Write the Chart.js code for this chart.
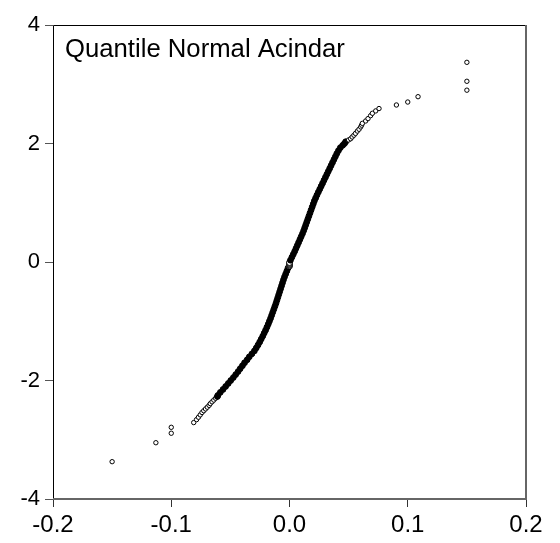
<!DOCTYPE html>
<html><head><meta charset="utf-8">
<script src="https://cdn.jsdelivr.net/npm/chart.js@4.4.1/dist/chart.umd.min.js"></script>
<style>html,body{margin:0;padding:0;background:#fff}#wrap{width:560px;height:543px}</style>
</head><body><div id="wrap"><canvas id="c" width="560" height="543"></canvas></div>
<script>
const titleText = "Quantile Normal Acindar";
const xTickLabels = ["-0.2", "-0.1", "0.0", "0.1", "0.2"];
const yTickLabels = ["-4", "-2", "0", "2", "4"];

// lower tail (x = empirical quantile, y = normal quantile)
const lowerX = [-0.150, -0.113, -0.100, -0.100, -0.081, -0.0786, -0.077, -0.0755, -0.074, -0.0725, -0.071, -0.0695, -0.068, -0.067, -0.0655, -0.064, -0.0625, -0.061];
const lowerY = [-3.37, -3.05, -2.89, -2.79, -2.71, -2.66, -2.62, -2.58, -2.54, -2.51, -2.48, -2.45, -2.42, -2.39, -2.36, -2.33, -2.30, -2.27];

// dense negative body
const negX = [-0.0605, -0.0585, -0.0562, -0.0540, -0.0518, -0.0497, -0.0475, -0.0455, -0.0435, -0.0417, -0.0398, -0.0380, -0.0358, -0.0340, -0.0318, -0.0297, -0.0281, -0.0266, -0.0252, -0.0239, -0.0226, -0.0214, -0.0202, -0.0191, -0.0180, -0.0170, -0.0160, -0.0151, -0.0142, -0.0133, -0.0124, -0.0115, -0.0107, -0.0099, -0.0091, -0.0083, -0.0075, -0.0067, -0.0059, -0.0051, -0.0042, -0.0032, -0.0022, -0.0012];
const negY = [-2.25, -2.20, -2.15, -2.10, -2.05, -2.00, -1.95, -1.90, -1.85, -1.80, -1.75, -1.70, -1.65, -1.60, -1.55, -1.50, -1.45, -1.40, -1.35, -1.30, -1.25, -1.20, -1.15, -1.10, -1.05, -1.00, -0.95, -0.90, -0.85, -0.80, -0.75, -0.70, -0.65, -0.60, -0.55, -0.50, -0.45, -0.40, -0.35, -0.30, -0.25, -0.20, -0.15, -0.10];

// zero returns
const zeroX = [0, 0, 0, 0, 0];
const zeroY = [-0.07, -0.055, -0.04, -0.025, -0.01];

// dense positive body
const posX = [0.0008, 0.0020, 0.0032, 0.0044, 0.0055, 0.0066, 0.0077, 0.0088, 0.0099, 0.0110, 0.0120, 0.0129, 0.0138, 0.0147, 0.0156, 0.0165, 0.0174, 0.0183, 0.0192, 0.0201, 0.0210, 0.0221, 0.0232, 0.0244, 0.0256, 0.0268, 0.0280, 0.0292, 0.0304, 0.0316, 0.0328, 0.0340, 0.0352, 0.0364, 0.0376, 0.0388, 0.0400, 0.0414, 0.0430];
const posY = [0.03, 0.08, 0.13, 0.18, 0.23, 0.28, 0.33, 0.38, 0.43, 0.48, 0.53, 0.58, 0.63, 0.68, 0.73, 0.78, 0.83, 0.88, 0.93, 0.98, 1.03, 1.08, 1.13, 1.18, 1.23, 1.28, 1.33, 1.38, 1.43, 1.48, 1.53, 1.58, 1.63, 1.68, 1.73, 1.78, 1.83, 1.88, 1.93];

// upper tail
const upperX = [0.0450, 0.0465, 0.0475, 0.0500, 0.0517, 0.0530, 0.0545, 0.0558, 0.0574, 0.0588, 0.0602, 0.0610, 0.0616, 0.0644, 0.0664, 0.0686, 0.0701, 0.0729, 0.0757, 0.0904, 0.100, 0.1087, 0.150, 0.150, 0.150];
const upperY = [1.97, 2.00, 2.03, 2.06, 2.08, 2.11, 2.14, 2.17, 2.21, 2.24, 2.28, 2.31, 2.34, 2.38, 2.42, 2.47, 2.51, 2.55, 2.59, 2.65, 2.70, 2.79, 2.90, 3.05, 3.37];

function pairs(xs, ys) { return xs.map((x, i) => ({x: x, y: ys[i]})); }
const points = [].concat(pairs(lowerX, lowerY), pairs(negX, negY), pairs(zeroX, zeroY), pairs(posX, posY), pairs(upperX, upperY));

const FONT = "'Liberation Sans', Arial, sans-serif";
function isDense(v) { return v && v.y > -2.28 && v.y < 2.05; }

const framePlugin = {
  id: 'frame',
  afterDraw(chart) {
    const {ctx, chartArea: a} = chart;
    ctx.save();
    ctx.strokeStyle = '#000';
    ctx.lineWidth = 1;
    ctx.beginPath();
    ctx.moveTo(a.left + 0.5, a.bottom);
    ctx.lineTo(a.left + 0.5, a.top + 0.5);
    ctx.lineTo(a.right, a.top + 0.5);
    ctx.stroke();
    ctx.strokeStyle = '#666';
    ctx.lineWidth = 2;
    ctx.beginPath();
    ctx.moveTo(a.right, a.top);
    ctx.lineTo(a.right, a.bottom);
    ctx.lineTo(a.left, a.bottom);
    ctx.stroke();
    ctx.fillStyle = '#000';
    ctx.font = "25.7px " + FONT;
    ctx.textBaseline = 'alphabetic';
    ctx.textAlign = 'left';
    ctx.fillText(titleText, a.left + 12, a.top + 32);
    ctx.restore();
  }
};

new Chart(document.getElementById('c'), {
  type: 'scatter',
  data: {
    datasets: [{
      data: points,
      pointStyle: 'circle',
      pointRadius: (ctx) => isDense(ctx.raw) ? 2.9 : 2.2,
      pointBorderWidth: 1,
      pointBorderColor: '#000',
      pointBackgroundColor: (ctx) => {
        const v = ctx.raw;
        return (isDense(v) && v.x !== 0) ? '#000' : '#fff';
      },
      pointHoverRadius: 2.2
    }]
  },
  options: {
    responsive: false,
    animation: false,
    events: [],
    layout: {padding: {top: 25, right: 34, left: 0, bottom: 0}},
    plugins: {legend: {display: false}, tooltip: {enabled: false}},
    scales: {
      x: {
        type: 'linear', min: -0.2, max: 0.2,
        afterFit: (s) => { s.height = 44; },
        afterBuildTicks: (s) => { s.ticks = xTickLabels.map(t => ({value: parseFloat(t)})); },
        border: {display: false},
        grid: {drawOnChartArea: false, drawTicks: true, tickLength: 8, color: '#333', lineWidth: 1},
        ticks: {
          padding: 4, color: '#000', font: {family: FONT, size: 24},
          maxRotation: 0, autoSkip: false,
          callback: (v, i) => xTickLabels[i]
        }
      },
      y: {
        type: 'linear', min: -4, max: 4,
        afterFit: (s) => { s.width = 53; },
        afterBuildTicks: (s) => { s.ticks = yTickLabels.map(t => ({value: parseFloat(t)})); },
        border: {display: false},
        grid: {drawOnChartArea: false, drawTicks: true, tickLength: 8, color: '#555', lineWidth: 1},
        ticks: {
          padding: 5, color: '#000', font: {family: FONT, size: 22},
          autoSkip: false,
          callback: (v, i) => yTickLabels[i]
        }
      }
    }
  },
  plugins: [framePlugin]
});
</script>
</body></html>
